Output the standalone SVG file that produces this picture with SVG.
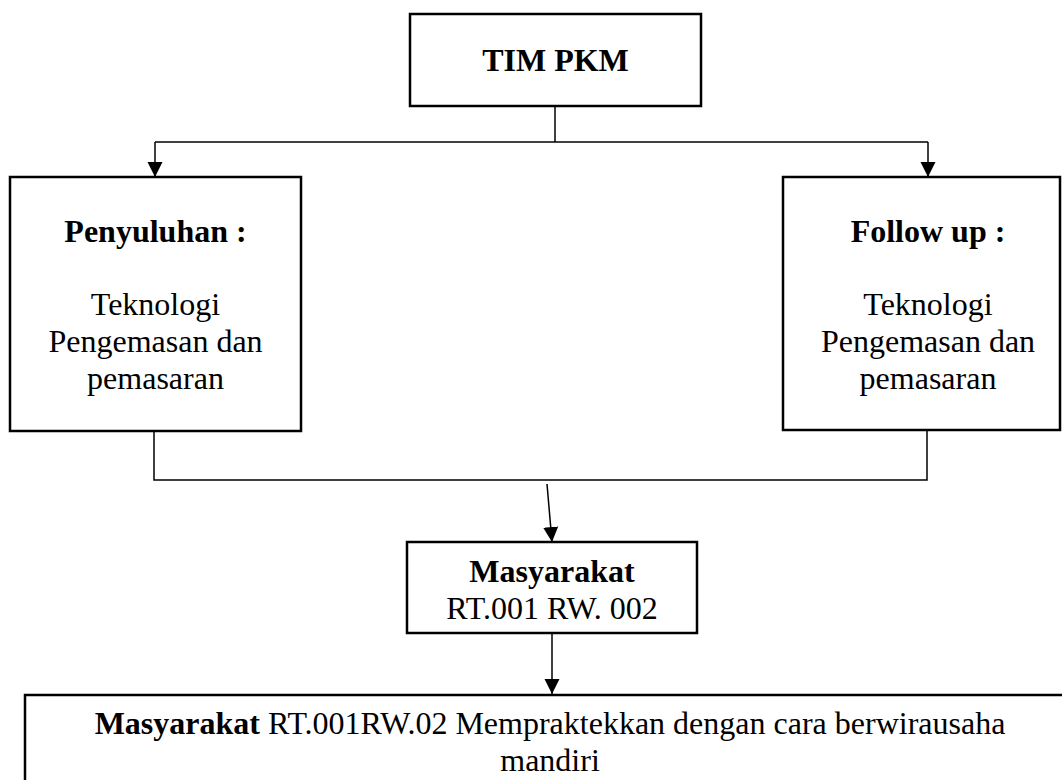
<svg xmlns="http://www.w3.org/2000/svg" width="1062" height="780" viewBox="0 0 1062 780">
<style>
.box{fill:#fff;stroke:#000;stroke-width:2.5}
.conn{fill:none;stroke:#000;stroke-width:1.5}
text{font-family:"Liberation Serif","Times New Roman",serif;font-size:32px;fill:#000;text-anchor:middle}
.b{font-weight:bold}
</style>
<defs>
<marker id="arr" markerWidth="16" markerHeight="16" refX="15" refY="8" orient="auto" markerUnits="userSpaceOnUse">
<path d="M0,0.5 L15,8 L0,15.5 Z" fill="#000"/>
</marker>
</defs>
<rect width="1062" height="780" fill="#fff"/>
<g id="connectors">
<path class="conn" d="M555,106 V142"/>
<path class="conn" d="M155,142 H928"/>
<path class="conn" d="M155,142 V177" marker-end="url(#arr)"/>
<path class="conn" d="M928,142 V177" marker-end="url(#arr)"/>
<path class="conn" d="M154,432 V480 H927 V431"/>
<path class="conn" d="M547,484 L552,542" marker-end="url(#arr)"/>
<path class="conn" d="M552,633 V694" marker-end="url(#arr)"/>
</g>
<g id="tim-pkm">
<rect class="box" x="410" y="14" width="291" height="92"/>
<text class="b" x="555.5" y="71">TIM PKM</text>
</g>
<g id="penyuluhan">
<rect class="box" x="10" y="177" width="291" height="254"/>
<text class="b" x="155.5" y="242">Penyuluhan :</text>
<text x="155.5" y="315">Teknologi</text>
<text x="155.5" y="352">Pengemasan dan</text>
<text x="155.5" y="389">pemasaran</text>
</g>
<g id="follow-up">
<rect class="box" x="783" y="177" width="277" height="253"/>
<text class="b" x="928" y="242">Follow up :</text>
<text x="928" y="315">Teknologi</text>
<text x="928" y="352">Pengemasan dan</text>
<text x="928" y="389">pemasaran</text>
</g>
<g id="masyarakat">
<rect class="box" x="407" y="542" width="290" height="91"/>
<text class="b" x="552" y="582">Masyarakat</text>
<text x="552" y="619">RT.001 RW. 002</text>
</g>
<g id="praktek">
<rect class="box" x="25" y="695" width="1100" height="200"/>
<text x="550" y="734"><tspan class="b">Masyarakat</tspan> RT.001RW.02 Mempraktekkan dengan cara berwirausaha</text>
<text x="550" y="771">mandiri</text>
</g>
</svg>
